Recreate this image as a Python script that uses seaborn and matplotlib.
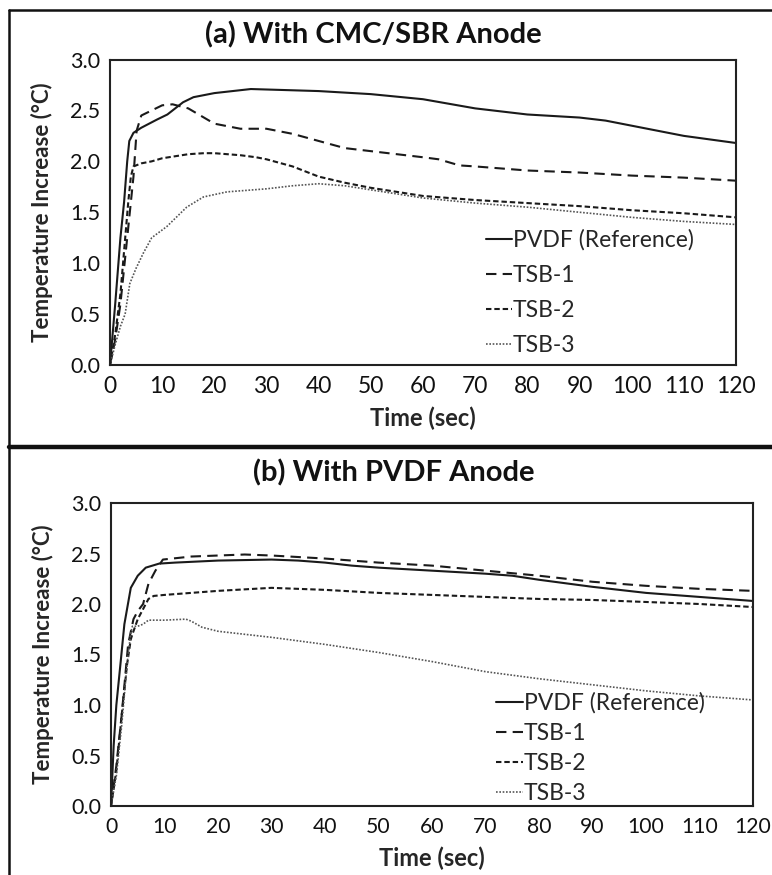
import pandas as pd
import seaborn as sns
import matplotlib.pyplot as plt
from matplotlib.lines import Line2D

sns.set_style('white')
plt.rcParams['font.family'] = ['Lato', 'DejaVu Sans']

series = ['PVDF (Reference)', 'TSB-1', 'TSB-2', 'TSB-3']

# ---------- panel (a): CMC/SBR anode ----------
a_pvdf_t = [0, 1, 2, 2.7, 3.3, 3.7, 4.5, 6, 9, 11, 12, 14, 16, 20, 27, 40, 50, 60, 70, 80, 90, 95, 100, 110, 120]
a_pvdf_y = [0, 0.6, 1.25, 1.6, 2.0, 2.2, 2.28, 2.33, 2.41, 2.46, 2.5, 2.58, 2.63, 2.67, 2.71, 2.69, 2.66, 2.61, 2.52, 2.46, 2.43, 2.40, 2.35, 2.25, 2.18]

a_tsb1_t = [0, 1, 2, 3, 4, 4.5, 5.1, 6, 8, 10, 12, 15, 20, 25, 30, 35, 40, 45, 50, 55, 60, 63, 67, 70, 80, 90, 100, 110, 120]
a_tsb1_y = [0, 0.25, 0.6, 1.1, 1.6, 1.85, 2.3, 2.45, 2.5, 2.55, 2.56, 2.52, 2.37, 2.32, 2.32, 2.27, 2.2, 2.13, 2.1, 2.07, 2.04, 2.02, 1.96, 1.95, 1.91, 1.89, 1.86, 1.84, 1.81]

a_tsb2_t = [0, 1, 2, 3, 3.5, 4, 4.5, 6, 8, 10, 15, 18, 20, 25, 28, 30, 35, 40, 45, 50, 55, 60, 70, 80, 90, 100, 110, 120]
a_tsb2_y = [0, 0.3, 0.7, 1.3, 1.6, 1.85, 1.95, 1.98, 2.0, 2.03, 2.07, 2.08, 2.08, 2.06, 2.04, 2.02, 1.95, 1.85, 1.79, 1.74, 1.70, 1.66, 1.62, 1.59, 1.56, 1.52, 1.49, 1.45]

a_tsb3_t = [0, 1, 2, 2.9, 3.8, 5, 6.4, 8, 10.9, 14.7, 17.9, 22.4, 30, 35, 40, 45, 50, 60, 70, 80, 90, 100, 110, 120]
a_tsb3_y = [0, 0.2, 0.38, 0.5, 0.8, 0.95, 1.1, 1.25, 1.36, 1.55, 1.65, 1.70, 1.73, 1.76, 1.78, 1.76, 1.72, 1.64, 1.59, 1.55, 1.50, 1.45, 1.41, 1.38]

# ---------- panel (b): PVDF anode ----------
b_pvdf_t = [0, 0.5, 1, 1.85, 2.5, 3.7, 5, 6.5, 9, 12, 20, 30, 35, 40, 45, 50, 60, 70, 75, 80, 90, 100, 110, 120]
b_pvdf_y = [0, 0.6, 1.0, 1.45, 1.8, 2.16, 2.28, 2.36, 2.4, 2.41, 2.43, 2.44, 2.43, 2.41, 2.38, 2.36, 2.33, 2.30, 2.28, 2.24, 2.17, 2.11, 2.07, 2.03]

b_tsb1_t = [0, 1, 2, 3.2, 4.2, 5, 6, 7, 8.3, 9.7, 15, 20, 25, 30, 40, 50, 60, 70, 80, 90, 100, 110, 120]
b_tsb1_y = [0, 0.4, 0.9, 1.6, 1.85, 1.93, 2.0, 2.2, 2.33, 2.44, 2.47, 2.48, 2.49, 2.48, 2.45, 2.41, 2.38, 2.33, 2.28, 2.22, 2.18, 2.15, 2.13]

b_tsb2_t = [0, 1, 2, 3, 3.7, 4, 5, 6, 7, 8, 10, 20, 30, 40, 50, 60, 70, 80, 90, 100, 110, 120]
b_tsb2_y = [0, 0.35, 0.9, 1.4, 1.65, 1.7, 1.85, 1.95, 2.05, 2.08, 2.09, 2.13, 2.16, 2.14, 2.11, 2.09, 2.07, 2.05, 2.04, 2.02, 2.0, 1.97]

b_tsb3_t = [0, 1, 2, 3, 3.7, 4, 5, 6, 7, 10, 14, 15, 17, 20, 30, 40, 50, 60, 70, 80, 90, 100, 110, 120]
b_tsb3_y = [0, 0.3, 0.8, 1.4, 1.72, 1.78, 1.78, 1.8, 1.84, 1.84, 1.85, 1.83, 1.77, 1.73, 1.67, 1.6, 1.52, 1.43, 1.33, 1.26, 1.2, 1.14, 1.09, 1.05]

x_ticks = list(range(0, 121, 10))
y_ticks = [0.0, 0.5, 1.0, 1.5, 2.0, 2.5, 3.0]


def build(ts, ys):
    frames = []
    for name, t, y in zip(series, ts, ys):
        frames.append(pd.DataFrame({'t': t, 'y': y, 'series': name}))
    return pd.concat(frames, ignore_index=True)


df_a = build([a_pvdf_t, a_tsb1_t, a_tsb2_t, a_tsb3_t], [a_pvdf_y, a_tsb1_y, a_tsb2_y, a_tsb3_y])
df_b = build([b_pvdf_t, b_tsb1_t, b_tsb2_t, b_tsb3_t], [b_pvdf_y, b_tsb1_y, b_tsb2_y, b_tsb3_y])

dash_map = {'PVDF (Reference)': '', 'TSB-1': (5, 3), 'TSB-2': (2.6, 1.4), 'TSB-3': (1, 1)}
color_map = {'PVDF (Reference)': '#1a1a1a', 'TSB-1': '#1a1a1a', 'TSB-2': '#1a1a1a', 'TSB-3': '#555555'}
lw_map = {'PVDF (Reference)': 1.5, 'TSB-1': 1.5, 'TSB-2': 1.5, 'TSB-3': 1.2}

W, H = 772, 875
fig = plt.figure(figsize=(W / 100, H / 100), dpi=100)


def fx(px):
    return px / W


def fy(py):
    return 1 - py / H


ax_a = fig.add_axes([fx(110), fy(365), fx(736) - fx(110), fy(59.5) - fy(365)])
ax_b = fig.add_axes([fx(111), fy(806), fx(753) - fx(111), fy(503) - fy(806)])


def draw(ax, df, leg_anchor, leg_spacing, xsize):
    sns.lineplot(data=df, x='t', y='y', hue='series', style='series', hue_order=series,
                 style_order=series, palette=color_map, dashes=dash_map, sort=False,
                 estimator=None, units='series', legend=False, ax=ax, linewidth=1.5)
    for line, name in zip(ax.get_lines(), series):
        line.set_linewidth(lw_map[name])
    ax.set_xlim(0, 120)
    ax.set_ylim(0, 3.0)
    ax.set_xticks(x_ticks)
    ax.set_xticklabels([str(v) for v in x_ticks])
    ax.set_yticks(y_ticks)
    ax.set_yticklabels([f'{v:.1f}' for v in y_ticks])
    ax.tick_params(axis='both', direction='in', length=6, width=1, color='#999999',
                   labelcolor='#111111')
    ax.tick_params(axis='x', pad=8, labelsize=xsize)
    ax.tick_params(axis='y', pad=7, labelsize=15.5)
    for s in ax.spines.values():
        s.set_visible(True)
        s.set_color('#222222')
        s.set_linewidth(1.5)
    ax.set_xlabel('Time (sec)', fontsize=17, fontweight='bold', labelpad=7)
    ax.set_ylabel('Temperature Increase (°C)', fontsize=16, fontweight='bold', labelpad=12)
    handles = [Line2D([], [], color=color_map[n], lw=lw_map[n],
                      linestyle='-' if not dash_map[n] else (0, dash_map[n]))
               for n in series]
    ax.legend(handles, series, loc='upper left', bbox_to_anchor=leg_anchor, frameon=False,
              fontsize=16.5, handlelength=1.15, handletextpad=0.05, labelspacing=leg_spacing,
              borderpad=0, borderaxespad=0)


draw(ax_a, df_a, (0.60, 0.445), 0.62, 16.5)
draw(ax_b, df_b, (0.60, 0.375), 0.40, 15.2)

fig.text(fx(373), fy(35), '(a) With CMC/SBR Anode', fontsize=21, fontweight='bold',
         ha='center', va='center', color='#111111')
fig.text(fx(394), fy(473), '(b) With PVDF Anode', fontsize=21, fontweight='bold',
         ha='center', va='center', color='#111111')

# outer frame and divider
fig.add_artist(Line2D([fx(9), fx(9)], [fy(10), 0], color='#111111', lw=1.8, transform=fig.transFigure))
fig.add_artist(Line2D([fx(9), 1], [fy(10), fy(10)], color='#111111', lw=1.8, transform=fig.transFigure))
fig.add_artist(Line2D([fx(9), 1], [fy(447), fy(447)], color='#111111', lw=3.2, transform=fig.transFigure))

fig.savefig('out.png', dpi=100)
